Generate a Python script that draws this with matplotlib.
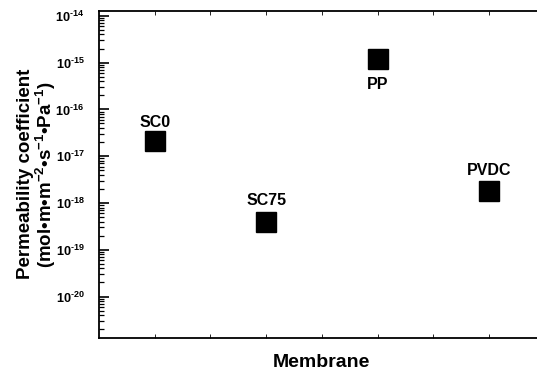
import matplotlib
matplotlib.use('Agg')
import matplotlib.pyplot as plt
from matplotlib.ticker import LogLocator, NullFormatter, FixedLocator

plt.rcParams['font.family'] = ['Liberation Sans', 'DejaVu Sans']
plt.rcParams['font.weight'] = 'bold'
plt.rcParams['mathtext.fontset'] = 'custom'
plt.rcParams['mathtext.rm'] = 'Liberation Sans:bold'
plt.rcParams['mathtext.bf'] = 'Liberation Sans:bold'
plt.rcParams['mathtext.default'] = 'rm'

# membranes and permeability coefficients
membranes = ['SC0', 'SC75', 'PP', 'PVDC']
xpos = [1, 3, 5, 7]
perm = [2.1e-17, 4.0e-19, 1.2e-15, 1.8e-18]
label_side = ['above', 'above', 'below', 'above']
exponents = list(range(-20, -13))

fig = plt.figure(figsize=(5.37, 3.72), dpi=100)
ax = fig.add_axes([99 / 537, 1 - 338 / 372, 445.6 / 537, 327.5 / 372])

ax.plot(xpos, perm, 's', color='black', markersize=14.4, linestyle='none')

for x, y, name, side in zip(xpos, perm, membranes, label_side):
    dy = 15 if side == 'above' else -18.5
    if name == 'SC0':
        dy = 13.5
    ax.annotate(name, (x, y), xytext=(0, dy), textcoords='offset points',
                ha='center', va='center', fontsize=11.5, fontweight='bold')

ax.set_yscale('log')
ax.set_ylim(1.3e-21, 1.3e-14)
ax.set_xlim(0, 8)

ax.yaxis.set_minor_locator(LogLocator(base=10, subs=range(2, 10), numticks=20))
ax.yaxis.set_minor_formatter(NullFormatter())
ax.set_yticks([10.0 ** e for e in exponents])
ax.set_yticklabels([r'$10^{\text{-}%d}$' % abs(e) for e in exponents])

ax.xaxis.set_major_locator(FixedLocator(range(1, 8)))
ax.set_xticklabels([])

ax.tick_params(axis='y', which='major', direction='in', length=7, width=1.2,
               labelsize=9.2, pad=10.5)
ax.tick_params(axis='y', which='minor', direction='in', length=3.5, width=0.9)
ax.tick_params(axis='x', which='major', direction='in', length=3, width=0.6,
               top=True)
ax.tick_params(axis='x', which='minor', bottom=False, top=False)

for side in ['left', 'bottom', 'top']:
    ax.spines[side].set_linewidth(1.3)
ax.spines['right'].set_visible(False)

ax.set_ylabel('Permeability coefficient\n(mol•m•m$^{-2}$•s$^{-1}$•Pa$^{-1}$)',
              fontsize=13.5, fontweight='bold', linespacing=1.0)
ax.yaxis.set_label_coords(-0.092, 0.5)
ax.set_xlabel('Membrane', fontsize=14, fontweight='bold', labelpad=8)

fig.savefig('out.png', dpi=100)
